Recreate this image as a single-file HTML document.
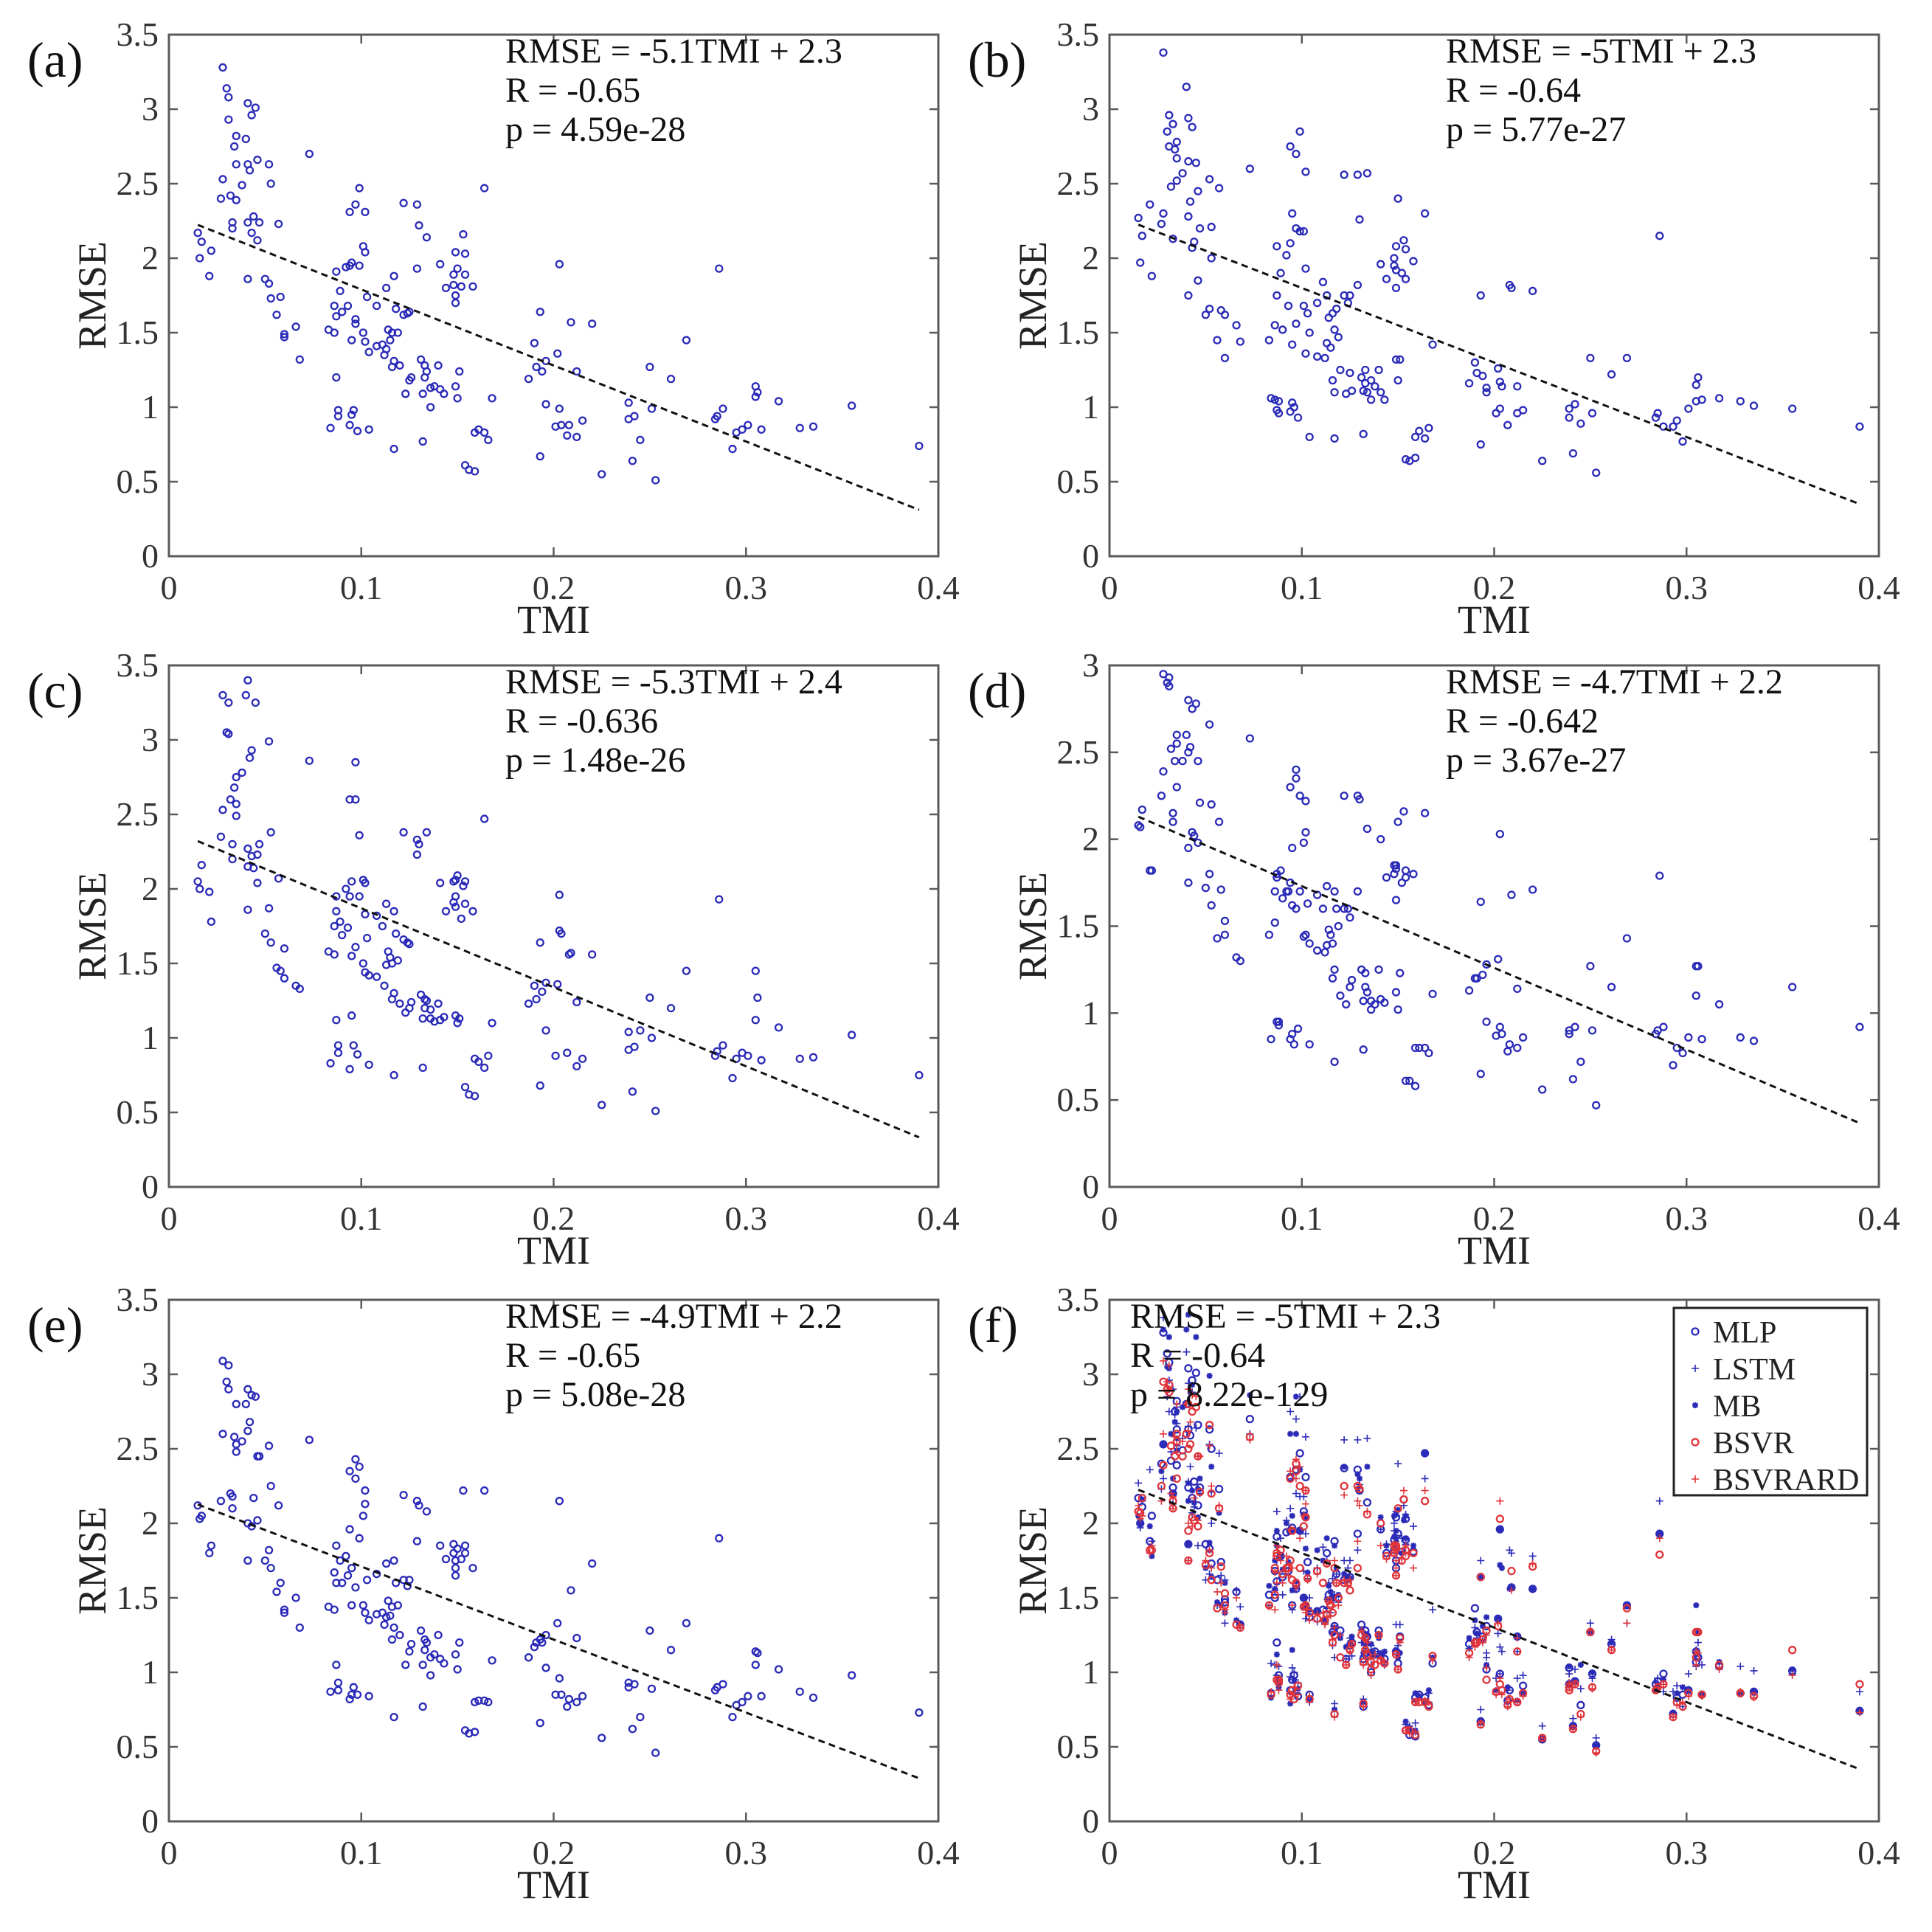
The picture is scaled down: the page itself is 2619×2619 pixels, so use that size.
<!DOCTYPE html>
<html><head><meta charset="utf-8"><style>
html,body{margin:0;padding:0;background:#fff;}
svg{display:block;}
svg text{font-family:"Liberation Serif","Times New Roman",serif;}
</style></head><body>
<svg id="fig" width="2619" height="2619" viewBox="0 0 2619 2619" xmlns="http://www.w3.org/2000/svg" font-family="Liberation Serif, serif"></svg>
<script>
// shared TMI values (x)
const tmi=[.015,.017,.016,.022,.021,.028,.030,.031,.031,.034,.035,.035,.028,.027,.032,.035,.033,.033,.038,.040,.041,.043,.045,.041,.042,.046,.052,.053,.044,.041,.043,.046,.047,.057,.041,.050,.052,.053,.058,.056,.060,.060,.066,.068,.073,.084,.083,.086,.086,.087,.087,.087,.089,.090,.088,.088,.092,.094,.095,.093,.095,.096,.095,.094,.097,.097,.098,.094,.097,.099,.102,.099,.101,.102,.101,.102,.103,.104,.104,.108,.108,.111,.113,.112,.113,.114,.116,.115,.117,.117,.116,.117,.118,.119,.120,.122,.122,.123,.125,.126,.124,.125,.129,.129,.130,.131,.132,.132,.133,.134,.133,.134,.136,.136,.138,.140,.141,.141,.143,.144,.148,.148,.149,.149,.149,.150,.149,.150,.151,.153,.154,.154,.152,.154,.156,.159,.158,.159,.161,.164,.164,.166,.168,.187,.190,.191,.193,.193,.194,.196,.196,.202,.203,.203,.201,.204,.207,.208,.209,.212,.212,.215,.220,.225,.239,.239,.242,.241,.245,.250,.251,.253,.261,.269,.284,.285,.288,.286,.293,.295,.298,.301,.305,.305,.306,.308,.317,.328,.335,.355,.390];
const rmseA=[2.17,2.11,2.00,2.05,1.88,3.28,3.14,3.08,2.93,2.75,2.82,2.63,2.53,2.40,2.42,2.39,2.24,2.20,2.49,2.80,3.04,2.96,3.01,2.63,2.59,2.66,2.63,2.50,2.28,2.24,2.17,2.12,2.24,2.23,1.86,1.86,1.83,1.73,1.74,1.62,1.47,1.49,1.54,1.32,2.70,0.86,1.52,1.50,1.68,1.61,1.20,1.91,1.78,1.64,0.98,0.94,1.94,1.95,1.97,1.68,1.45,0.98,0.95,0.88,1.59,1.56,0.84,2.31,2.36,2.47,2.31,1.95,2.08,2.04,1.50,1.44,1.74,1.37,0.85,1.68,1.41,1.42,1.39,1.35,1.80,1.52,1.50,1.45,1.88,0.72,1.27,1.31,1.66,1.50,1.28,1.62,2.37,1.09,1.18,1.20,1.63,1.64,2.36,1.93,2.22,1.32,0.77,1.09,1.28,2.14,1.20,1.24,1.00,1.13,1.14,1.28,1.12,1.96,1.09,1.80,1.82,1.89,2.04,1.70,1.14,1.06,1.75,1.93,1.24,2.16,2.03,1.89,1.81,0.61,0.58,0.57,1.81,0.83,0.85,2.47,0.83,0.78,1.06,1.19,1.43,1.27,1.64,0.67,1.24,1.31,1.02,1.36,1.96,0.99,0.87,0.88,0.81,0.88,1.57,1.24,0.80,0.91,1.56,0.55,1.03,0.92,0.94,0.64,0.78,1.27,0.99,0.51,1.19,1.45,0.92,0.94,0.99,1.93,0.72,0.83,0.85,0.88,1.07,1.14,1.10,0.85,1.04,0.86,0.87,1.01,0.74];
const rmseB=[2.27,2.15,1.97,1.88,2.36,3.38,2.85,2.75,2.96,2.73,2.67,2.52,2.30,2.23,2.48,2.78,2.90,2.13,2.57,3.15,2.94,2.88,2.64,2.65,2.38,2.45,2.53,2.21,2.11,2.28,2.07,1.85,2.20,2.47,1.75,1.62,1.66,2.00,1.65,1.45,1.33,1.62,1.55,1.44,2.60,1.06,1.45,1.05,1.55,1.75,0.98,2.08,1.90,1.52,1.04,0.96,2.02,2.10,2.30,1.68,1.42,1.00,1.03,0.97,1.56,2.20,0.93,2.75,2.70,2.85,2.58,2.18,2.18,1.93,1.68,1.36,1.63,1.50,0.80,1.70,1.34,1.84,1.43,1.33,1.75,1.60,1.63,1.40,1.52,0.79,1.18,1.10,1.66,1.47,1.25,1.75,2.56,1.09,1.23,1.11,1.70,1.75,2.56,1.82,2.26,1.20,0.82,1.11,1.25,2.57,1.16,1.10,1.05,1.18,1.14,1.25,1.10,1.96,1.05,1.86,2.00,1.95,2.08,1.80,1.32,1.18,1.92,2.40,1.32,2.12,2.06,1.86,1.90,0.65,0.64,0.66,1.98,0.80,0.84,2.30,0.79,0.86,1.42,1.16,1.30,1.23,1.75,0.75,1.21,1.13,1.10,1.26,1.17,0.99,0.96,1.14,0.88,1.82,1.80,1.14,0.96,0.98,1.78,0.64,0.99,0.93,1.02,0.69,0.89,1.33,0.96,0.56,1.22,1.33,0.93,0.96,0.87,2.15,0.87,0.91,0.77,0.99,1.04,1.15,1.20,1.05,1.06,1.04,1.01,0.99,0.87];
const rmseC=[2.05,2.16,2.00,1.78,1.98,3.30,3.05,3.25,3.04,2.68,2.75,2.57,2.53,2.35,2.60,2.49,2.30,2.20,2.78,3.30,3.40,2.93,3.25,2.27,2.88,2.23,2.99,2.38,2.14,2.15,2.22,2.04,2.30,2.07,1.86,1.70,1.87,1.64,1.45,1.47,1.40,1.60,1.35,1.33,2.86,0.83,1.58,1.56,1.75,1.85,1.12,1.95,1.78,1.69,0.95,0.90,2.00,1.95,2.05,1.74,1.55,0.95,1.15,0.79,1.61,2.60,0.89,2.60,2.85,2.36,2.04,1.95,2.06,1.83,1.50,1.44,1.67,1.42,0.82,1.82,1.41,1.75,1.49,1.35,1.90,1.58,1.50,1.54,1.85,0.75,1.26,1.30,1.70,1.52,1.23,1.66,2.38,1.17,1.20,1.24,1.64,1.63,2.33,2.23,2.30,1.29,0.80,1.13,1.26,2.38,1.20,1.25,1.13,1.19,1.11,1.23,1.12,2.04,1.14,1.85,2.05,1.91,2.06,1.95,1.15,1.10,1.88,2.09,1.13,2.02,2.05,1.90,1.80,0.67,0.62,0.61,1.85,0.86,0.84,2.47,0.80,0.88,1.10,1.23,1.35,1.26,1.64,0.68,1.31,1.37,1.05,1.36,1.96,1.72,0.88,1.70,0.90,1.56,1.57,1.24,0.81,0.86,1.56,0.55,1.04,0.92,0.94,0.64,1.05,1.27,1.00,0.51,1.20,1.45,0.88,0.91,0.95,1.93,0.73,0.86,0.90,0.88,1.12,1.45,1.27,0.85,1.07,0.86,0.87,1.02,0.75];
const rmseD=[2.08,2.17,2.07,1.82,1.82,2.95,2.90,2.88,2.93,2.45,2.55,2.30,2.39,2.25,2.52,2.60,2.15,2.10,2.45,2.60,2.80,2.75,2.78,2.50,2.53,2.45,2.66,2.20,2.02,1.95,2.04,1.98,2.21,2.10,1.75,1.72,1.80,1.62,1.71,1.43,1.45,1.53,1.32,1.30,2.58,0.85,1.45,1.52,1.70,1.80,0.95,1.78,1.82,1.66,0.95,0.93,1.70,1.75,1.95,1.70,1.62,0.82,0.88,0.85,1.60,2.40,0.91,2.30,2.35,2.25,2.22,1.70,1.98,2.04,1.44,1.45,1.63,1.40,0.82,1.68,1.36,1.60,1.39,1.35,1.73,1.48,1.40,1.45,1.70,0.72,1.20,1.25,1.60,1.50,1.10,1.60,2.25,1.05,1.15,1.19,1.60,1.55,2.25,1.70,2.23,1.25,0.79,1.07,1.23,2.06,1.15,1.12,1.02,1.07,1.05,1.25,1.08,2.00,1.06,1.78,1.80,1.85,1.85,1.65,1.12,1.02,1.83,2.10,1.23,2.16,1.82,1.78,1.75,0.61,0.61,0.58,1.80,0.80,0.80,2.15,0.80,0.77,1.11,1.13,1.20,1.20,1.64,0.65,1.22,1.28,0.95,1.31,2.03,0.92,0.87,0.88,0.78,0.82,1.68,1.14,0.80,0.86,1.71,0.56,0.90,0.88,0.92,0.62,0.72,1.27,0.90,0.47,1.15,1.43,0.88,0.90,0.92,1.79,0.70,0.80,0.77,0.86,1.10,1.27,1.27,0.85,1.05,0.86,0.84,1.15,0.92];
const rmseE=[2.12,2.05,2.03,1.85,1.80,3.09,2.95,3.06,2.90,2.58,2.80,2.48,2.60,2.15,2.20,2.53,2.18,2.10,2.55,2.80,2.90,2.86,2.85,2.62,2.68,2.45,2.52,2.25,2.17,2.00,1.98,2.02,2.45,2.12,1.75,1.75,1.82,1.70,1.60,1.54,1.40,1.42,1.50,1.30,2.56,0.87,1.44,1.42,1.67,1.60,1.05,1.85,1.75,1.60,0.88,0.93,1.78,1.96,1.70,1.65,1.45,0.90,0.85,0.82,1.57,2.43,0.85,2.35,2.30,2.38,2.22,1.90,2.05,2.13,1.45,1.40,1.62,1.35,0.84,1.66,1.39,1.40,1.37,1.32,1.73,1.48,1.44,1.38,1.75,0.70,1.22,1.30,1.60,1.45,1.25,1.62,2.19,1.05,1.14,1.19,1.58,1.62,2.15,1.88,2.12,1.28,0.77,1.05,1.22,2.08,1.15,1.20,0.98,1.10,1.12,1.25,1.09,1.85,1.06,1.76,1.80,1.86,1.65,1.70,1.12,1.02,1.75,1.83,1.20,2.22,1.85,1.80,1.76,0.61,0.59,0.60,1.70,0.80,0.81,2.22,0.81,0.80,1.08,1.10,1.17,1.20,1.22,0.66,1.20,1.25,1.03,1.33,2.15,0.96,0.85,0.85,0.77,0.82,1.55,1.23,0.80,0.84,1.73,0.56,0.93,0.90,0.92,0.62,0.70,1.28,0.89,0.46,1.15,1.33,0.88,0.90,0.92,1.90,0.70,0.78,0.80,0.84,1.05,1.14,1.13,0.84,1.02,0.87,0.83,0.98,0.73];
const fitSlopes=[-5.1,-5,-5.3,-4.7,-4.9,-5];
const fitIntercepts=[2.3,2.3,2.4,2.2,2.2,2.3];
const panelLabels=["(a)","(b)","(c)","(d)","(e)","(f)"];
const eqTexts=["RMSE = -5.1TMI + 2.3","RMSE = -5TMI + 2.3","RMSE = -5.3TMI + 2.4","RMSE = -4.7TMI + 2.2","RMSE = -4.9TMI + 2.2","RMSE = -5TMI + 2.3"];
const rTexts=["R = -0.65","R = -0.64","R = -0.636","R = -0.642","R = -0.65","R = -0.64"];
const pTexts=["p = 4.59e-28","p = 5.77e-27","p = 1.48e-26","p = 3.67e-27","p = 5.08e-28","p = 8.22e-129"];
const yMaxes=[3.5,3.5,3.5,3,3.5,3.5];
const xTicks=[0,0.1,0.2,0.3,0.4];
const xTickLabels=["0","0.1","0.2","0.3","0.4"];
const legendNames=["MLP","LSTM","MB","BSVR","BSVRARD"];

const NS="http://www.w3.org/2000/svg";
const FF="Liberation Serif, Times New Roman, serif";
const svg=document.getElementById('fig');
function mk(tag,attrs,parent){const e=document.createElementNS(NS,tag);for(const k in attrs)e.setAttribute(k,attrs[k]);if(tag==='text')e.setAttribute('font-family',FF);(parent||svg).appendChild(e);return e;}
const colX=[229,1504], rowY=[47,902,1762], W=1043, H=707;
const BLUE="#2a2ab8", RED="#e0343a";
function marker(g,type,cx,cy,col){
  let e;
  if(type==='o'){e=mk('circle',{cx:cx,cy:cy,r:4.5,fill:'none',stroke:col,'stroke-width':2.3},g);}
  else if(type==='+'){e=mk('path',{d:`M${cx-5},${cy}h10M${cx},${cy-5}v10`,stroke:col,'stroke-width':1.6,fill:'none'},g);}
  else {e=mk('path',{d:`M${cx-4},${cy}h8M${cx},${cy-4}v8M${cx-3},${cy-3}l6,6M${cx-3},${cy+3}l6,-6`,stroke:col,'stroke-width':2.2,fill:'none'},g);}
  return e;
}
const allSeries=[rmseA,rmseB,rmseC,rmseD,rmseE];
for(let p=0;p<6;p++){
  const x0=colX[p%2], y0=rowY[Math.floor(p/2)], ymax=yMaxes[p];
  const g=mk('g',{});
  
  
  const sx=v=>x0+v/0.4*W, sy=v=>y0+H-v/ymax*H;
  const box=mk('rect',{x:x0,y:y0,width:W,height:H,fill:'#fff',stroke:'#5a5a5a','stroke-width':3},g);
  
  xTicks.forEach((t,i)=>{
    const X=sx(t);
    mk('path',{d:`M${X},${y0+H}v-12M${X},${y0}v12`,stroke:'#5a5a5a','stroke-width':2.5},g);
    const tl=mk('text',{x:X,y:y0+H+58,'text-anchor':'middle','font-size':46,fill:'#333'},g);
    tl.textContent=xTickLabels[i];
    
  });
  for(let k=0;k<=ymax*2+1e-9;k++){
    const v=k/2, Y=sy(v);
    mk('path',{d:`M${x0},${Y}h12M${x0+W},${Y}h-12`,stroke:'#5a5a5a','stroke-width':2.5},g);
    const tl=mk('text',{x:x0-14,y:Y+15,'text-anchor':'end','font-size':46,fill:'#333'},g);
    tl.textContent=String(v);
    
  }
  const xt=mk('text',{x:x0+W/2,y:y0+H+104,'text-anchor':'middle','font-size':54,fill:'#222'},g);
  xt.textContent='TMI';
  const yt=mk('text',{x:0,y:0,'text-anchor':'middle','font-size':54,fill:'#222',transform:`translate(${x0-86},${y0+H/2}) rotate(-90)`},g);
  yt.textContent='RMSE';
  const pl=mk('text',{x:x0-192,y:y0+57,'font-size':68,fill:'#111'},g);
  pl.textContent=panelLabels[p];
  if(p<5){
    const ys=allSeries[p];
    for(let i=0;i<Math.min(tmi.length,ys.length);i++){
      const m=marker(g,'o',sx(tmi[i]),sy(ys[i]),BLUE);
      
    }
  } else {
    const types=['o','+','*','o','+'], cols=[BLUE,BLUE,BLUE,RED,RED];
    for(let s=0;s<5;s++){
      const ys=allSeries[s];
      for(let i=0;i<Math.min(tmi.length,ys.length);i++){
        const m=marker(g,types[s],sx(tmi[i]),sy(ys[i]),cols[s]);
        
      }
    }
  }
  const xmin=Math.min(...tmi), xmax=Math.max(...tmi);
  const fl=mk('line',{x1:sx(xmin),y1:sy(fitSlopes[p]*xmin+fitIntercepts[p]),x2:sx(xmax),y2:sy(fitSlopes[p]*xmax+fitIntercepts[p]),stroke:'#111','stroke-width':3,'stroke-dasharray':'9 6'},g);
  
  const ax = p===5 ? x0+28 : (p%2===0 ? 685 : 1960);
  [eqTexts[p],rTexts[p],pTexts[p]].forEach((t,i)=>{
    const tx=mk('text',{x:ax,y:y0+38+i*53,'font-size':48,fill:'#111'},g);
    tx.textContent=t;
  });
  if(p===5){
    const lg=mk('g',{});
    
    mk('rect',{x:2269,y:1773,width:262,height:254,fill:'#fff',stroke:'#222','stroke-width':3},lg);
    const types=['o','+','*','o','+'], cols=[BLUE,BLUE,BLUE,RED,RED];
    legendNames.forEach((n,i)=>{
      const cy=1805+i*50;
      const e=mk('g',{},lg);
      
      marker(e,types[i],2298,cy,cols[i]);
      const t=mk('text',{x:2322,y:cy+15,'font-size':42,fill:'#222'},e);t.textContent=n;
    });
  }
}
</script>
</body></html>
